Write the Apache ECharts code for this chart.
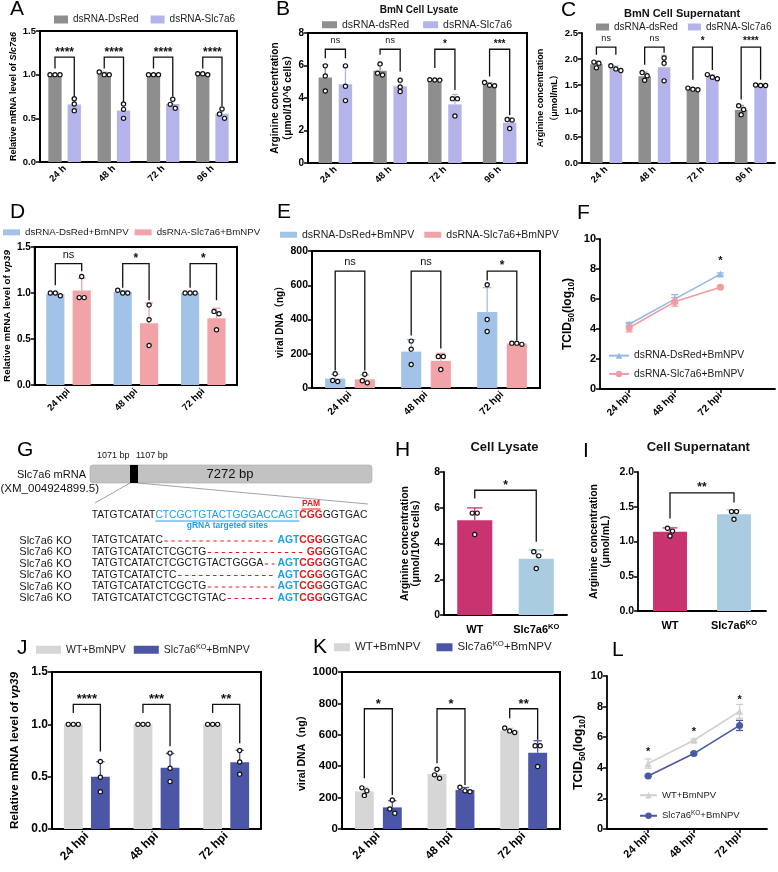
<!DOCTYPE html>
<html>
<head>
<meta charset="utf-8">
<script src="https://cdn.jsdelivr.net/npm/echarts@6/dist/echarts.min.js"></script>
<style>
html, body { margin: 0; padding: 0; background: #fff; }
#main { width: 778px; height: 872px; }
</style>
</head>
<body>
<div id="main"></div>
<script>
'use strict';
// ---------- data ----------
var hourCats = ['24 h', '48 h', '72 h', '96 h'];
var hpiCats = ['24 hpi', '48 hpi', '72 hpi'];
var genoCats = ['WT', 'Slc7a6KO'];

// A: relative Slc7a6 mRNA, replicates per time point
var aDsRed = [[1.0, 1.0, 1.0], [1.0, 1.03, 1.0], [1.0, 1.0, 1.0], [1.0, 1.01, 1.01]];
var aSlc = [[0.725, 0.664, 0.588], [0.664, 0.603, 0.50], [0.718, 0.66, 0.615], [0.607, 0.55, 0.50]];
var aBrackets = [[0, 1.07, 1.2, 0.75, '****'], [1, 1.07, 1.2, 0.69, '****'], [2, 1.07, 1.2, 0.75, '****'], [3, 1.07, 1.2, 0.64, '****']];

// B: BmN cell lysate arginine
var bDsRed = [[5.98, 5.36, 4.43], [6.1, 5.53, 5.42], [5.11, 5.13, 5.1], [4.95, 4.75, 4.78]];
var bSlc = [[5.98, 4.72, 3.84], [5.1, 4.68, 4.4], [3.96, 3.96, 2.9], [2.68, 2.12, 2.64]];
var bBrackets = [[0, 6.45, 7.0, 6.45, 'ns'], [1, 6.66, 7.0, 5.63, 'ns'], [2, 5.84, 7.0, 4.5, '*'], [3, 5.32, 7.0, 2.95, '***']];

// C: BmN cell supernatant arginine
var cDsRed = [[1.94, 1.83, 1.92], [1.74, 1.59, 1.68], [1.41, 1.44, 1.42], [1.10, 1.03, 0.93]];
var cSlc = [[1.87, 1.78, 1.81], [2.02, 1.92, 1.58], [1.70, 1.62, 1.65], [1.49, 1.50, 1.49]];
var cBrackets = [[0, 2.08, 2.23, 2.08, 'ns'], [1, 1.89, 2.23, 2.12, 'ns'], [2, 1.6, 2.23, 1.79, '*'], [3, 1.22, 2.23, 1.6, '****']];

// D: relative vp39 mRNA
var dDsRed = [[0.97, 1.0, 1.0], [1.0, 1.03, 1.0], [1.0, 1.0, 1.0]];
var dSlc = [[1.18, 0.95, 0.95], [0.87, 0.71, 0.43], [0.80, 0.775, 0.60]];
var dBrackets = [[0, 1.084, 1.32, 1.237, 'ns'], [1, 1.058, 1.32, 0.92, '*'], [2, 1.058, 1.32, 0.92, '*']];

// E: viral DNA (ng)
var eDsRed = [[83, 38, 44], [274, 227, 137], [603, 400, 330]];
var eSlc = [[80, 30, 42], [184, 184, 108], [255, 262, 262]];
var eBrackets = [[0, 102, 683, 102, 'ns'], [1, 307, 683, 231, 'ns'], [2, 628, 683, 278, '*']];

// F: TCID50 (log10)
var fDsRedMean = [4.32, 5.99, 7.66];
var fDsRedSd = [0.12, 0.3, 0.08];
var fSlcMean = [4.08, 5.81, 6.79];
var fSlcSd = [0.27, 0.29, 0.1];
var fStars = [[3, 8.7]];

// H / I: arginine in WT vs knockout cells
var hLysate = [[5.7, 5.7, 4.5], [3.54, 3.31, 2.6]];
var hBrackets = [[0, 6.52, 6.98, 4.1, '*']];
var iSuper = [[1.19, 1.15, 1.08], [1.43, 1.43, 1.32]];
var iBrackets = [[0, 1.33, 1.70, 1.56, '**']];

// J: relative vp39 mRNA, WT vs KO
var jWT = [[1.0, 1.0, 1.0], [1.0, 1.0, 1.0], [1.0, 1.0, 1.0]];
var jKO = [[0.645, 0.495, 0.357], [0.725, 0.58, 0.453], [0.75, 0.64, 0.524]];
var jBrackets = [[0, 1.108, 1.19, 0.74, '****'], [1, 1.108, 1.19, 0.79, '***'], [2, 1.108, 1.19, 0.82, '**']];

// K: viral DNA (ng), WT vs KO
var kWT = [[262, 214, 243], [323, 381, 345], [615, 643, 625]];
var kKO = [[185, 100, 128], [238, 266, 243], [530, 530, 398]];
var kBrackets = [[0, 323, 766, 217, '*'], [1, 419, 766, 281, '*'], [2, 706, 766, 568, '**']];

// L: TCID50 (log10), WT vs KO
var lWTMean = [4.28, 5.8, 7.69];
var lWTSd = [0.3, 0.08, 0.45];
var lKOMean = [3.47, 4.93, 6.77];
var lKOSd = [0.05, 0.08, 0.33];
var lStars = [[1, 5.19], [2, 6.5], [3, 8.58]];

// G: sequence panel text
var refSeq = { pre: 'TATGTCATAT', grna: 'CTCGCTGTACTGGGACCAGT', pam: 'CGG', post: 'GGTGAC' };
var koKept = ['TATGTCATATC', 'TATGTCATATCTCGCTG', 'TATGTCATATCTCGCTGTACTGGGA', 'TATGTCATATCTC', 'TATGTCATATCTCGCTG', 'TATGTCATATCTCGCTGTAC'];
var koTails = [['AGT', 'CGG'], ['', 'GG'], ['AGT', 'CGG'], ['AGT', 'CGG'], ['AGT', 'CGG'], ['AGT', 'CGG']];

// ---------- helpers ----------
var FF = '"Liberation Sans", Arial, "Noto Sans CJK SC", sans-serif';
var cGray = '#8e8e8e', cLav = '#b4b4ea', cBlue = '#a3c2e8', cPink = '#f1a3a7';
var cMag = '#c9336f', cSky = '#a9cce1', cLight = '#d6d6d6', cNavy = '#4b56a6';

function mean(a) { var s = 0; a.forEach(function(v) { s += v; }); return s / a.length; }
function sd(a) {
  var m = mean(a), s = 0;
  a.forEach(function(v) { s += (v - m) * (v - m); });
  return Math.sqrt(s / (a.length - 1));
}
// spread points that sit on top of each other sideways
function spread(ys) {
  var idx = ys.map(function(y, k) { return k; }).sort(function(a, b) { return ys[a] - ys[b]; });
  var dx = ys.map(function() { return 0; });
  var groups = [], cur = [idx[0]];
  for (var k = 1; k < idx.length; k++) {
    if (ys[idx[k]] - ys[idx[k - 1]] < 4.5) cur.push(idx[k]);
    else { groups.push(cur); cur = [idx[k]]; }
  }
  groups.push(cur);
  groups.forEach(function(g) {
    g.forEach(function(id, j) { dx[id] = (j - (g.length - 1) / 2) * 5; });
  });
  return dx;
}

var grids = [], xAxes = [], yAxes = [], series = [], legends = [], graphics = [];
var supRich = {
  sup: { fontSize: 7.5, fontWeight: 'bold', verticalAlign: 'top', lineHeight: 7, fontFamily: FF },
  i: { fontStyle: 'italic', fontWeight: 'bold', fontFamily: FF },
  sub: { fontSize: 8, fontWeight: 'bold', verticalAlign: 'bottom', lineHeight: 8, fontFamily: FF }
};

function txt(o) {
  return {
    type: 'text', x: o.x, y: o.y, z: 10, silent: true,
    style: {
      text: o.text, font: o.font, fill: o.fill || '#111',
      align: o.align || 'left', verticalAlign: 'middle',
      textAlign: o.align || 'left', textVerticalAlign: 'middle'
    }
  };
}

function axisCommon(p, i) {
  var lw = p.boxed ? 2 : 1.8;
  yAxes.push({
    type: 'value', gridIndex: i, min: p.y[0], max: p.y[1], interval: p.y[2],
    splitLine: { show: false },
    axisLine: { show: true, onZero: false, lineStyle: { color: '#000', width: lw } },
    axisTick: { show: true, length: 4, lineStyle: { color: '#000', width: 1.5 } },
    axisLabel: {
      color: '#000', fontWeight: 'bold', fontSize: p.yfs, fontFamily: FF, margin: 4,
      formatter: function(v) { return v.toFixed(p.dec); }
    },
    name: p.yName, nameLocation: 'middle', nameGap: p.nameGap,
    nameTextStyle: {
      color: '#000', fontWeight: 'bold', fontSize: p.nameFs, fontFamily: FF,
      lineHeight: p.nameLh || p.nameFs + 2,
      rich: {
        i: { fontStyle: 'italic', fontWeight: 'bold', fontSize: p.nameFs, fontFamily: FF },
        sub: { fontSize: p.nameFs * 0.68, fontWeight: 'bold', verticalAlign: 'bottom', lineHeight: p.nameFs * 0.6, fontFamily: FF }
      }
    }
  });
}

function repRender(offFrac, bw, colors) {
  return function(params, api) {
    var c = api.value(0), m = api.value(1), s = api.value(2);
    var band = api.size([1, 0])[0];
    var base = api.coord([c, m]);
    var x = base[0] + offFrac * band;
    var yTop = api.coord([c, m + s])[1];
    var col = typeof colors === 'string' ? colors : colors[c];
    var cap = bw * band * 0.22;
    var kids = [
      { type: 'line', shape: { x1: x, y1: base[1], x2: x, y2: yTop }, style: { stroke: col, lineWidth: 1.3 } },
      { type: 'line', shape: { x1: x - cap, y1: yTop, x2: x + cap, y2: yTop }, style: { stroke: col, lineWidth: 1.3 } }
    ];
    var ys = [api.coord([c, api.value(3)])[1], api.coord([c, api.value(4)])[1], api.coord([c, api.value(5)])[1]];
    var dx = spread(ys);
    ys.forEach(function(y, k) {
      kids.push({ type: 'circle', shape: { cx: x + dx[k], cy: y, r: 2.1 }, style: { fill: '#fff', stroke: '#111', lineWidth: 1.2 } });
    });
    return { type: 'group', children: kids };
  };
}

function bracketRender(offFrac, labels, fs, across) {
  return function(params, api) {
    var c = api.value(0);
    var band = api.size([1, 0])[0];
    var xl, xr;
    if (across) {
      xl = api.coord([0, 0])[0]; xr = api.coord([1, 0])[0];
    } else {
      var cx = api.coord([c, 0])[0];
      xl = cx - offFrac * band; xr = cx + offFrac * band;
    }
    var yl = api.coord([c, api.value(1)])[1];
    var yt = api.coord([c, api.value(2)])[1];
    var yr = api.coord([c, api.value(3)])[1];
    var lab = labels[params.dataIndex];
    var isNs = lab === 'ns';
    var ty = yt - 8 + (isNs ? -1 : 0.25 * fs);
    return {
      type: 'group', children: [
        { type: 'polyline', shape: { points: [[xl, yl], [xl, yt], [xr, yt], [xr, yr]] }, style: { stroke: '#111', lineWidth: 1.3, fill: null } },
        { type: 'text', x: (xl + xr) / 2, y: ty, style: {
          text: lab, font: (isNs ? 'normal ' + (fs - 1) : 'bold ' + fs) + 'px ' + FF, fill: '#111',
          align: 'center', verticalAlign: 'middle', textAlign: 'center', textVerticalAlign: 'middle' } }
      ]
    };
  };
}

function addBarPanel(p) {
  var i = grids.length;
  grids.push({ left: p.box[0], top: p.box[1], width: p.box[2], height: p.box[3], show: !!p.boxed, borderColor: '#000', borderWidth: 2 });
  xAxes.push({
    type: 'category', gridIndex: i, data: p.cats,
    axisLine: { lineStyle: { color: '#000', width: p.boxed ? 2 : 1.8 } },
    axisTick: { alignWithLabel: true, length: 4, lineStyle: { color: '#000', width: 1.5 } },
    axisLabel: {
      interval: 0, rotate: p.rotate, color: '#000', fontWeight: 'bold', fontSize: p.xfs, fontFamily: FF,
      margin: p.rotate ? 5 : 8, lineHeight: p.xfs + 3,
      formatter: function(v) { return v.replace('KO', '{sup|KO}'); }, rich: supRich
    }
  });
  axisCommon(p, i);
  var off = p.groups.length === 2 ? (p.bw + p.bw * p.gap) / 2 : 0;
  p.groups.forEach(function(g, k) {
    var col = g.color || g.colors[0];
    series.push({
      type: 'bar', name: g.name, xAxisIndex: i, yAxisIndex: i, silent: true, z: 2,
      barWidth: (p.bw * 100) + '%', barGap: (p.gap * 100) + '%',
      itemStyle: { color: col },
      data: g.reps.map(function(r, c) {
        return { value: mean(r), itemStyle: { color: g.colors ? g.colors[c] : g.color } };
      })
    });
    series.push({
      type: 'custom', xAxisIndex: i, yAxisIndex: i, silent: true, z: 5,
      data: g.reps.map(function(r, c) { return [c, mean(r), sd(r)].concat(r); }),
      renderItem: repRender(p.groups.length === 2 ? (k === 0 ? -off : off) : 0, p.bw, g.colors || g.color)
    });
  });
  series.push({
    type: 'custom', xAxisIndex: i, yAxisIndex: i, silent: true, z: 6,
    data: p.brackets.map(function(b) { return [b[0], b[1], b[2], b[3]]; }),
    renderItem: bracketRender(off, p.brackets.map(function(b) { return b[4]; }), p.sigFs, p.groups.length === 1)
  });
  if (p.legend) addLegend(p.legend, p.groups.map(function(g) { return g.name; }), 'rect');
}

function addLegend(l, names, icon) {
  var lg = {
    data: names, left: l.left, top: l.top, orient: l.orient || 'horizontal',
    itemWidth: l.w, itemHeight: l.h, itemGap: l.gap, padding: 0, selectedMode: false,
    textStyle: { fontSize: l.fs, fontFamily: FF, color: '#222', lineHeight: l.fs + 3, rich: {
      sup: { fontSize: l.fs * 0.68, verticalAlign: 'top', lineHeight: l.fs * 0.62, fontFamily: FF, color: '#222' } } },
    formatter: function(n) { return n.replace('\u200b', '').replace('KO', '{sup|KO}'); }
  };
  if (icon) lg.icon = icon;
  legends.push(lg);
}

function addLinePanel(p) {
  var i = grids.length;
  grids.push({ left: p.box[0], top: p.box[1], width: p.box[2], height: p.box[3] });
  var ticks = p.cats.map(function(c, k) { return k + 1; });
  xAxes.push({
    type: 'value', gridIndex: i, min: p.x[0], max: p.x[1], splitLine: { show: false },
    axisLine: { onZero: false, lineStyle: { color: '#000', width: 1.8 } },
    axisTick: { customValues: ticks, length: 4, lineStyle: { color: '#000', width: 1.5 } },
    axisLabel: {
      customValues: ticks, rotate: 45, color: '#000', fontWeight: 'bold', fontSize: p.xfs, fontFamily: FF, margin: 5,
      formatter: function(v) { return p.cats[Math.round(v) - 1] || ''; }
    }
  });
  axisCommon(p, i);
  p.lines.forEach(function(g) {
    series.push({
      type: 'line', name: g.name, xAxisIndex: i, yAxisIndex: i, silent: true, z: 3,
      symbol: g.symbol, symbolSize: 7, itemStyle: { color: g.color }, lineStyle: { color: g.color, width: 1.6 },
      data: g.mean.map(function(v, k) { return [k + 1, v]; })
    });
    series.push({
      type: 'custom', xAxisIndex: i, yAxisIndex: i, silent: true, z: 2,
      data: g.mean.map(function(v, k) { return [k + 1, v, g.sd[k]]; }),
      renderItem: function(params, api) {
        var x = api.coord([api.value(0), 0])[0];
        var y1 = api.coord([api.value(0), api.value(1) + api.value(2)])[1];
        var y2 = api.coord([api.value(0), api.value(1) - api.value(2)])[1];
        var st = { stroke: g.color, lineWidth: 1.3 };
        return { type: 'group', children: [
          { type: 'line', shape: { x1: x, y1: y1, x2: x, y2: y2 }, style: st },
          { type: 'line', shape: { x1: x - 3.5, y1: y1, x2: x + 3.5, y2: y1 }, style: st },
          { type: 'line', shape: { x1: x - 3.5, y1: y2, x2: x + 3.5, y2: y2 }, style: st }
        ] };
      }
    });
  });
  series.push({
    type: 'custom', xAxisIndex: i, yAxisIndex: i, silent: true, z: 6, data: p.stars,
    renderItem: function(params, api) {
      var pt = api.coord([api.value(0), api.value(1)]);
      return { type: 'text', x: pt[0], y: pt[1] + 2.5, style: { text: '*', font: 'bold 11px ' + FF, fill: '#111',
        align: 'center', verticalAlign: 'middle', textAlign: 'center', textVerticalAlign: 'middle' } };
    }
  });
  addLegend(p.legend, p.lines.map(function(g) { return g.name; }), null);
}

// ---------- panels ----------
addBarPanel({
  box: [40, 31, 197, 131], boxed: true, cats: hourCats, y: [0, 1.5, 0.5], dec: 1, bw: 0.27, gap: 0.45,
  rotate: 45, xfs: 9.5, yfs: 9.5, sigFs: 12,
  yName: 'Relative mRNA level of {i|Slc7a6}', nameFs: 9, nameGap: 20,
  groups: [{ name: 'dsRNA-DsRed', color: cGray, reps: aDsRed }, { name: 'dsRNA-Slc7a6', color: cLav, reps: aSlc }],
  brackets: aBrackets, legend: { left: 54, top: 13, w: 14, h: 8, gap: 12, fs: 10 }
});
addBarPanel({
  box: [308, 33, 219, 130], boxed: true, cats: hourCats, y: [0, 8, 2], dec: 0, bw: 0.245, gap: 0.5,
  rotate: 45, xfs: 9.5, yfs: 10, sigFs: 10,
  yName: 'Arginine concentration\n（μmol/10^6 cells）', nameFs: 10.2, nameLh: 13, nameGap: 13,
  groups: [{ name: 'dsRNA-dsRed', color: cGray, reps: bDsRed }, { name: 'dsRNA-Slc7a6', color: cLav, reps: bSlc }],
  brackets: bBrackets, legend: { left: 322, top: 18, w: 15, h: 7, gap: 14, fs: 10.5 }
});
addBarPanel({
  box: [582, 33, 193, 130], boxed: false, cats: hourCats, y: [0, 2.5, 0.5], dec: 1, bw: 0.26, gap: 0.55,
  rotate: 45, xfs: 9.5, yfs: 9.5, sigFs: 10,
  yName: 'Arginine concentration\n（μmol/mL）', nameFs: 9, nameLh: 13.5, nameGap: 15,
  groups: [{ name: 'dsRNA-dsRed', color: cGray, reps: cDsRed }, { name: 'dsRNA-Slc7a6', color: cLav, reps: cSlc }],
  brackets: cBrackets, legend: { left: 596, top: 20.5, w: 13, h: 7, gap: 10, fs: 10 }
});
addBarPanel({
  box: [33, 247, 204, 138], boxed: true, cats: hpiCats, y: [0, 1.5, 0.5], dec: 1, bw: 0.27, gap: 0.45,
  rotate: 45, xfs: 9.5, yfs: 10, sigFs: 12,
  yName: 'Relative mRNA level of {i|vp39}', nameFs: 9.8, nameGap: 22,
  groups: [{ name: 'dsRNA-DsRed+BmNPV', color: cBlue, reps: dDsRed }, { name: 'dsRNA-Slc7a6+BmNPV', color: cPink, reps: dSlc }],
  brackets: dBrackets, legend: { left: 3, top: 226, w: 17, h: 6, gap: 6, fs: 9.7 }
});
addBarPanel({
  box: [312, 251, 228, 137], boxed: true, cats: hpiCats, y: [0, 800, 200], dec: 0, bw: 0.265, gap: 0.47,
  rotate: 45, xfs: 10, yfs: 10.5, sigFs: 12,
  yName: 'viral DNA（ng）', nameFs: 10, nameGap: 22,
  groups: [{ name: 'dsRNA-DsRed+BmNPV', color: cBlue, reps: eDsRed }, { name: 'dsRNA-Slc7a6+BmNPV', color: cPink, reps: eSlc }],
  brackets: eBrackets, legend: { left: 280, top: 228, w: 17, h: 6, gap: 10, fs: 10.5 }
});
addLinePanel({
  box: [600, 239, 175, 150], x: [0.36, 4.2], y: [0, 10, 2], dec: 0, cats: hpiCats, xfs: 10, yfs: 11,
  yName: 'TCID{sub|50}(log{sub|10})', nameFs: 12, nameLh: 16, nameGap: 24,
  lines: [
    { name: 'dsRNA-DsRed+BmNPV\u200b', color: '#95b8e8', symbol: 'triangle', mean: fDsRedMean, sd: fDsRedSd },
    { name: 'dsRNA-Slc7a6+BmNPV\u200b', color: '#f09ca2', symbol: 'circle', mean: fSlcMean, sd: fSlcSd }
  ],
  stars: fStars, legend: { left: 608, top: 349, orient: 'vertical', w: 20, h: 8, gap: 5, fs: 10.3 }
});
addBarPanel({
  box: [444, 472, 123, 143], boxed: false, cats: genoCats, y: [0, 8, 2], dec: 0, bw: 0.57, gap: 0,
  rotate: 0, xfs: 11, yfs: 10.5, sigFs: 12,
  yName: 'Arginine concentration\n（μmol/10^6 cells）', nameFs: 10.5, nameLh: 11, nameGap: 22,
  groups: [{ name: 'lysate', colors: [cMag, cSky], reps: hLysate }],
  brackets: hBrackets
});
addBarPanel({
  box: [638, 472, 128, 139], boxed: false, cats: genoCats, y: [0, 2, 0.5], dec: 1, bw: 0.53, gap: 0,
  rotate: 0, xfs: 11, yfs: 10.5, sigFs: 12,
  yName: 'Arginine concentration\n（μmol/mL）', nameFs: 10.5, nameLh: 12, nameGap: 26,
  groups: [{ name: 'supernatant', colors: [cMag, cSky], reps: iSuper }],
  brackets: iBrackets
});
addBarPanel({
  box: [52, 672, 209, 157], boxed: true, cats: hpiCats, y: [0, 1.5, 0.5], dec: 1, bw: 0.27, gap: 0.44,
  rotate: 45, xfs: 12, yfs: 12, sigFs: 13,
  yName: 'Relative mRNA level of {i|vp39}', nameFs: 11.7, nameGap: 30,
  groups: [{ name: 'WT+BmNPV', color: cLight, reps: jWT }, { name: 'Slc7a6KO+BmNPV', color: cNavy, reps: jKO }],
  brackets: jBrackets, legend: { left: 36, top: 643, w: 25, h: 8, gap: 8, fs: 10.5 }
});
addBarPanel({
  box: [342, 672, 218, 157], boxed: true, cats: hpiCats, y: [0, 1000, 200], dec: 0, bw: 0.26, gap: 0.48,
  rotate: 45, xfs: 11.5, yfs: 11.5, sigFs: 13,
  yName: 'viral DNA（ng）', nameFs: 10.5, nameGap: 21,
  groups: [{ name: 'WT+BmNPV', color: cLight, reps: kWT }, { name: 'Slc7a6KO+BmNPV', color: cNavy, reps: kKO }],
  brackets: kBrackets, legend: { left: 334, top: 640, w: 16, h: 8, gap: 16, fs: 11.5 }
});
addLinePanel({
  box: [607, 676, 160, 153], x: [0.1, 3.6], y: [0, 10, 2], dec: 0, cats: hpiCats, xfs: 11, yfs: 11,
  yName: 'TCID{sub|50}(log{sub|10})', nameFs: 12.5, nameLh: 16, nameGap: 15,
  lines: [
    { name: 'WT+BmNPV\u200b', color: '#d0d0d0', symbol: 'triangle', mean: lWTMean, sd: lWTSd },
    { name: 'Slc7a6KO+BmNPV\u200b', color: cNavy, symbol: 'circle', mean: lKOMean, sd: lKOSd }
  ],
  stars: lStars, legend: { left: 639, top: 789, orient: 'vertical', w: 17, h: 8, gap: 8, fs: 9.5 }
});

// ---------- panel letters and titles ----------
[['A', 10, 9], ['B', 276, 9], ['C', 561, 10], ['D', 10, 212], ['E', 277, 212], ['F', 577, 213],
 ['G', 17, 450], ['H', 395, 450], ['I', 583, 451], ['J', 17, 648], ['K', 313, 647], ['L', 612, 650]].forEach(function(l) {
  graphics.push(txt({ text: l[0], x: l[1], y: l[2], font: 'normal 21px ' + FF, fill: '#000' }));
});
graphics.push(txt({ text: 'BmN Cell Lysate', x: 419, y: 10, font: 'bold 10px ' + FF, align: 'center' }));
graphics.push(txt({ text: 'BmN Cell Supernatant', x: 682, y: 14, font: 'bold 11px ' + FF, align: 'center' }));
graphics.push(txt({ text: 'Cell Lysate', x: 504.5, y: 447.7, font: 'bold 13px ' + FF, align: 'center' }));
graphics.push(txt({ text: 'Cell Supernatant', x: 698.3, y: 447.7, font: 'bold 13px ' + FF, align: 'center' }));

// ---------- G: knockout sequence schematic ----------
var mctx = document.createElement('canvas').getContext('2d');
function tw(t, font) { mctx.font = font; return mctx.measureText(t).width; }
var fK = 'normal 10.3px ' + FF, fB = 'bold 10.3px ' + FF;
var cSeqBlue = '#1ba1e6', cSeqRed = '#e8191c', cSeqBlack = '#1a1a1a';

graphics.push({ type: 'rect', shape: { x: 90, y: 465, width: 282, height: 18, r: 3 }, style: { fill: '#c2c2c2', stroke: '#a9a9a9', lineWidth: 0.6 }, silent: true });
graphics.push({ type: 'rect', shape: { x: 130, y: 465, width: 8, height: 18 }, style: { fill: '#000' }, silent: true });
graphics.push(txt({ text: '7272 bp', x: 230, y: 474, font: 'normal 13px ' + FF, align: 'center' }));
graphics.push(txt({ text: '1071 bp', x: 97, y: 456, font: 'normal 9px ' + FF }));
graphics.push(txt({ text: '1107 bp', x: 136, y: 456, font: 'normal 9px ' + FF }));
graphics.push(txt({ text: 'Slc7a6 mRNA', x: 86, y: 475, font: 'normal 11px ' + FF, align: 'right' }));
graphics.push(txt({ text: '(XM_004924899.5)', x: 99, y: 489, font: 'normal 11.5px ' + FF, align: 'right' }));
graphics.push({ type: 'line', shape: { x1: 130, y1: 483, x2: 95, y2: 503 }, style: { stroke: '#8a8a8a', lineWidth: 0.8 }, silent: true });
graphics.push({ type: 'line', shape: { x1: 138, y1: 483, x2: 368, y2: 504 }, style: { stroke: '#8a8a8a', lineWidth: 0.8 }, silent: true });

var sx = 91.7, refY = 515;
var wPre = tw(refSeq.pre, fK), wG = tw(refSeq.grna, fK), wPam = tw(refSeq.pam, fB), wPost = tw(refSeq.post, fK);
graphics.push(txt({ text: refSeq.pre, x: sx, y: refY, font: fK, fill: cSeqBlack }));
graphics.push(txt({ text: refSeq.grna, x: sx + wPre, y: refY, font: fK, fill: cSeqBlue }));
graphics.push(txt({ text: refSeq.pam, x: sx + wPre + wG, y: refY, font: fB, fill: cSeqRed }));
graphics.push(txt({ text: refSeq.post, x: sx + wPre + wG + wPam, y: refY, font: fK, fill: cSeqBlack }));
graphics.push({ type: 'line', shape: { x1: sx + wPre, y1: refY + 6, x2: sx + wPre + wG, y2: refY + 6 }, style: { stroke: cSeqBlue, lineWidth: 1 }, silent: true });
var pamX = sx + wPre + wG + wPam / 2;
graphics.push(txt({ text: 'PAM', x: pamX, y: 504, font: 'bold 8.5px ' + FF, fill: cSeqRed, align: 'center' }));
graphics.push({ type: 'line', shape: { x1: pamX - 9.5, y1: 509, x2: pamX + 9.5, y2: 509 }, style: { stroke: cSeqRed, lineWidth: 1 }, silent: true });
graphics.push(txt({ text: 'gRNA targeted sites', x: sx + wPre + wG / 2, y: 526, font: 'bold 8.5px ' + FF, fill: cSeqBlue, align: 'center' }));

var seqEnd = sx + wPre + wG + wPam + wPost;
var rowYs = [540.5, 552, 563.5, 575, 586.5, 598];
koKept.forEach(function(kept, r) {
  var y = rowYs[r];
  graphics.push(txt({ text: 'Slc7a6 KO', x: 19.3, y: y, font: 'normal 11px ' + FF, fill: cSeqBlack }));
  graphics.push(txt({ text: kept, x: sx, y: y, font: fK, fill: cSeqBlack }));
  var t = koTails[r];
  var wPostR = tw(refSeq.post, fK), wR = tw(t[1], fB), wBl = t[0] ? tw(t[0], fB) : 0;
  var xPost = seqEnd - wPostR, xR = xPost - wR, xBl = xR - wBl;
  graphics.push(txt({ text: refSeq.post, x: xPost, y: y, font: fK, fill: cSeqBlack }));
  graphics.push(txt({ text: t[1], x: xR, y: y, font: fB, fill: cSeqRed }));
  if (t[0]) graphics.push(txt({ text: t[0], x: xBl, y: y, font: fB, fill: cSeqBlue }));
  var xs = sx + tw(kept, fK) + 1.5;
  graphics.push({ type: 'line', shape: { x1: xs, y1: y + 0.5, x2: xBl - 3, y2: y + 0.5 }, style: { stroke: cSeqRed, lineWidth: 1, lineDash: [3.5, 3.5] }, silent: true });
});

var chart = echarts.init(document.getElementById('main'), null, { renderer: 'canvas' });
chart.setOption({
  backgroundColor: '#fff', animation: false,
  textStyle: { fontFamily: FF },
  grid: grids, xAxis: xAxes, yAxis: yAxes, series: series, legend: legends,
  graphic: { elements: graphics }
});
</script>
</body>
</html>
